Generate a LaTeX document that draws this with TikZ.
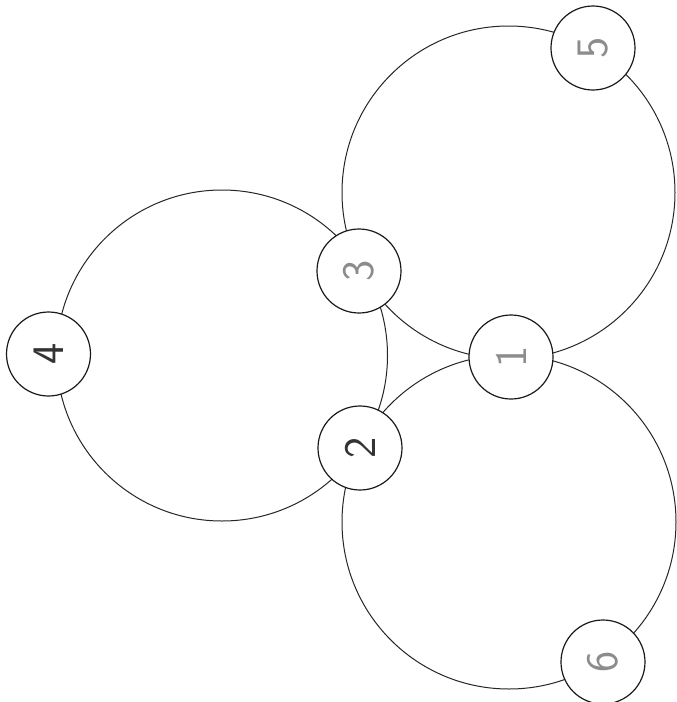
\documentclass[tikz,border=0pt]{standalone}
\usepackage{fontspec}
\begin{document}
\begin{tikzpicture}[x=1pt,y=-1pt,
  bigc/.style={circle,draw=black!85,line width=1pt,inner sep=0pt},
  smallc/.style={circle,draw=black!90,line width=1.2pt,fill=white,inner sep=0pt,minimum size=84pt},
  digit/.style={rotate=90,font=\sffamily\fontsize{45}{45}\selectfont},
  dark/.style={text=black!80},
  pencil/.style={text=black!45}]
\useasboundingbox (0,0) rectangle (677,702);
\fill[white] (0,0) rectangle (677,702);
% big circles
\node[bigc,minimum size=331pt] (L) at (222,355.5) {};
\node[bigc,minimum size=333pt] (TR) at (508.5,192.5) {};
\node[bigc,minimum size=334pt] (BR) at (509,522) {};
% small circles
\node[smallc] (c4) at (48.5,354) {};
\node[smallc] (c3) at (359,271) {};
\node[smallc] (c2) at (360,448) {};
\node[smallc] (c1) at (511,357) {};
\node[smallc] (c5) at (593,48) {};
\node[smallc] (c6) at (603,662) {};
% digits
\node[digit,dark] (d4) at (c4) {4};
\node[digit,pencil] (d3) at (c3) {3};
\node[digit,dark] (d2) at (c2) {2};
\node[digit,pencil] (d1) at (c1) {1};
\node[digit,pencil] (d5) at (c5) {5};
\node[digit,pencil] (d6) at (c6) {6};
\end{tikzpicture}
\end{document}
